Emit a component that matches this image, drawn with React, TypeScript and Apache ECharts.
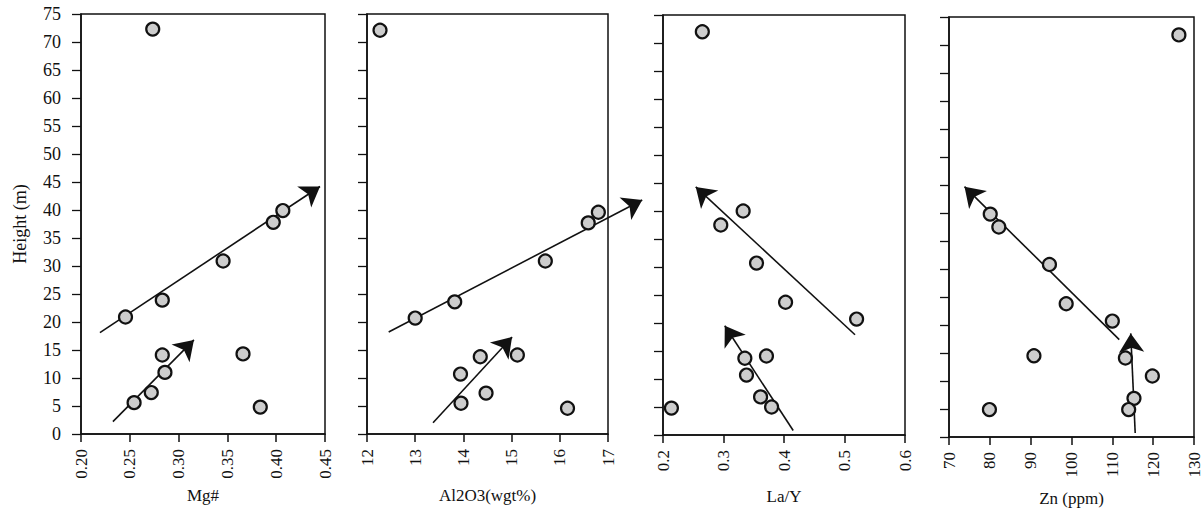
import React, { useEffect, useRef } from "react";
import * as echarts from "echarts";

// Panel 1: Mg#
const mgX = [0.2735, 0.4068, 0.397, 0.3456, 0.2833, 0.2456, 0.2833, 0.366, 0.286, 0.272, 0.2544, 0.3837];
const mgH = [72.3, 39.9, 37.8, 30.9, 23.9, 20.9, 14.1, 14.3, 11.0, 7.4, 5.6, 4.8];
const mgArrows = [
  [[0.2194, 18.1], [0.4449, 44.2]],
  [[0.2327, 2.2], [0.3157, 16.8]],
];
// Panel 2: Al2O3
const alX = [12.27, 16.8, 16.59, 15.7, 13.82, 13.0, 14.35, 15.12, 13.94, 14.47, 13.95, 16.16];
const alH = [72.1, 39.6, 37.7, 30.9, 23.6, 20.7, 13.8, 14.1, 10.7, 7.3, 5.5, 4.6];
const alArrows = [
  [[12.45, 18.2], [17.71, 41.8]],
  [[13.37, 2.0], [15.01, 17.3]],
];
// Panel 3: La/Y
const laX = [0.265, 0.3325, 0.2955, 0.3546, 0.4026, 0.52, 0.371, 0.3353, 0.338, 0.3613, 0.3795, 0.2139];
const laH = [72.0, 40.0, 37.5, 30.7, 23.7, 20.7, 14.1, 13.7, 10.7, 6.8, 5.0, 4.8];
const laArrows = [
  [[0.5174, 17.9], [0.2541, 44.3]],
  [[0.4152, 0.8], [0.3021, 19.5]],
];
// Panel 4: Zn
const znX = [126.3, 80.1, 82.2, 94.6, 98.7, 110.0, 90.8, 113.2, 119.8, 115.3, 114.0, 79.9];
const znH = [71.8, 39.8, 37.5, 30.8, 23.8, 20.7, 14.5, 14.1, 10.9, 6.9, 4.9, 4.9];
const znArrows = [
  [[111.7, 17.4], [73.8, 44.7]],
  [[115.6, 0.7], [114.5, 18.5]],
];

const xNames = ["Mg#", "Al2O3(wgt%)", "La/Y", "Zn (ppm)"];
const xMins = [0.2, 12, 0.2, 70];
const xMaxs = [0.45, 17, 0.6, 130];
const xSteps = [0.05, 1, 0.1, 10];
const xDigits = [2, 0, 1, 0];
const yName = "Height (m)";
const yMin = 0;
const yMax = 75;
const yStep = 5;

const FONT = "Liberation Serif, DejaVu Serif, serif";

export default function App() {
  const ref = useRef<HTMLDivElement>(null);
  useEffect(() => {
    const chart = echarts.init(ref.current!, null, { renderer: "svg" });
    const grids = [
      { left: 81, width: 244, top: 14, height: 420 },
      { left: 367, width: 241, top: 14, height: 420 },
      { left: 663, width: 242, top: 15, height: 420 },
      { left: 949, width: 245, top: 17, height: 420 },
    ];
    const xs = [mgX, alX, laX, znX];
    const hs = [mgH, alH, laH, znH];
    const arrows = [mgArrows, alArrows, laArrows, znArrows];
    const series: any[] = [];
    for (let i = 0; i < 4; i++) {
      series.push({
        type: "lines",
        coordinateSystem: "cartesian2d",
        xAxisIndex: i,
        yAxisIndex: i,
        clip: false,
        polyline: false,
        symbol: ["none", "arrow"],
        symbolSize: [13, 19],
        lineStyle: { color: "#111", width: 1.6, opacity: 1 },
        data: arrows[i].map((c) => ({ coords: c })),
        z: 3,
      });
      series.push({
        type: "scatter",
        xAxisIndex: i,
        yAxisIndex: i,
        symbol: "circle",
        symbolSize: 13,
        itemStyle: { color: "#cdcdcd", borderColor: "#111", borderWidth: 2.2, opacity: 1 },
        data: xs[i].map((x, j) => [x, hs[i][j]]),
        z: 4,
      });
    }
    chart.setOption({
      animation: false,
      backgroundColor: "#fff",
      textStyle: { fontFamily: FONT },
      grid: grids.map((g) => ({
        ...g,
        show: true,
        borderColor: "#111",
        borderWidth: 1.5,
        backgroundColor: "transparent",
        containLabel: false,
        outerBoundsMode: "none",
      })),
      xAxis: [0, 1, 2, 3].map((i) => ({
        type: "value",
        gridIndex: i,
        min: xMins[i],
        max: xMaxs[i],
        interval: xSteps[i],
        name: xNames[i],
        nameLocation: "middle",
        nameGap: 53,
        nameTextStyle: { fontFamily: FONT, fontSize: 17, color: "#111" },
        axisLine: { show: true, onZero: false, lineStyle: { color: "#111", width: 1.5 } },
        axisTick: { show: true, inside: false, length: 8, lineStyle: { color: "#111", width: 1.5 } },
        splitLine: { show: false },
        axisLabel: {
          rotate: 90,
          margin: 15,
          fontFamily: FONT,
          fontSize: 17,
          color: "#111",
          formatter: (v: number) => v.toFixed(xDigits[i]),
        },
      })),
      yAxis: [0, 1, 2, 3].map((i) => ({
        type: "value",
        gridIndex: i,
        min: yMin,
        max: yMax,
        interval: yStep,
        name: i === 0 ? yName : "",
        nameLocation: "middle",
        nameGap: 52,
        nameTextStyle: { fontFamily: FONT, fontSize: 18, color: "#111" },
        axisLine: { show: true, onZero: false, lineStyle: { color: "#111", width: 1.5 } },
        axisTick: { show: true, inside: false, length: 9, lineStyle: { color: "#111", width: 1.3 } },
        splitLine: { show: false },
        axisLabel: {
          show: i === 0,
          margin: 20,
          fontFamily: FONT,
          fontSize: 18,
          color: "#111",
        },
      })),
      series,
    });
    return () => chart.dispose();
  }, []);
  return (
    <div
      ref={ref}
      style={{ position: "fixed", left: 0, top: 0, width: 1202, height: 509, background: "#fff" }}
    />
  );
}
